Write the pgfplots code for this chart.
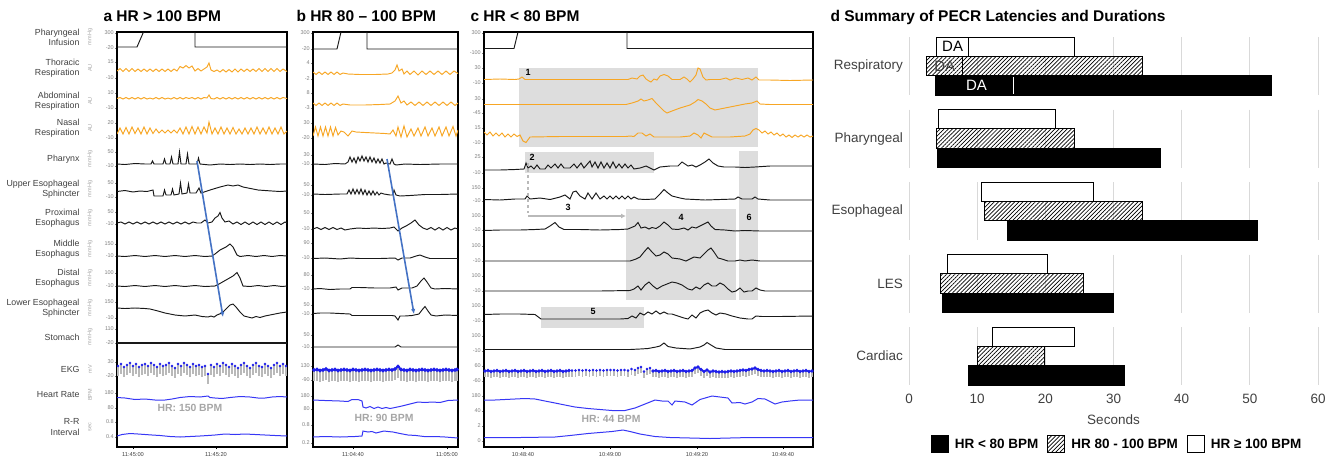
\documentclass[border=0pt]{standalone}
\usepackage{fontspec}
\setmainfont{Liberation Sans}
\usepackage{pgfplots}
\pgfplotsset{compat=1.18}
\usetikzlibrary{patterns.meta,arrows.meta}

\definecolor{orng}{RGB}{247,166,36}
\definecolor{trc}{RGB}{25,25,25}
\definecolor{ekgblue}{RGB}{30,30,235}
\definecolor{hrblue}{RGB}{55,55,245}
\definecolor{arrowblue}{RGB}{68,114,196}
\definecolor{shd}{RGB}{221,221,221}
\definecolor{gridc}{RGB}{217,217,217}
\definecolor{labc}{RGB}{64,64,64}

\newcommand\rowf{\fontsize{8.8}{10.2}\selectfont}
\newcommand\unitf{\fontsize{5.5}{6}\selectfont}
\newcommand\ttl{\bfseries\fontsize{15.5}{17}\selectfont}
\newcommand\hrf{\bfseries\fontsize{10.4}{12}\selectfont}

\tikzset{
  rsp/.style={orng, line width=0.95pt},
  blk/.style={trc, line width=0.95pt},
  hrt/.style={hrblue, line width=1pt},
  barB/.style={draw=black, fill=black, line width=0.9pt},
  barH/.style={draw=black, line width=0.9pt, pattern={Lines[angle=45,distance=2.9pt,line width=0.7pt]}},
  barW/.style={draw=black, fill=white, line width=0.9pt},
}
\pgfplotsset{
  trace/.style={scale only axis, y dir=reverse, clip=true, anchor=south west,
    axis line style={line width=1.1pt}, tick align=outside, major tick length=2pt,
    ytick style={gray, line width=0.4pt}, xtick style={black, line width=0.5pt},
    yticklabel style={font=\fontsize{5.5}{6}\selectfont, text=gray, inner sep=1pt},
    xticklabel style={font=\fontsize{5.7}{6}\selectfont, text=labc},
    xtick pos=bottom, ytick pos=left},
  ekg/.style={ekgblue, mark=*, mark size=0.9pt, error bars/y dir=plus, error bars/y fixed=#1,
    error bars/error mark=none, error bars/error bar style={gray!55, line width=1.2pt}},
}
\newcommand{\bx}[5]{\addplot[#1] coordinates {(#2,#4) (#3,#4) (#3,#5) (#2,#5)} -- cycle;}

\begin{document}
\begin{tikzpicture}
\path[use as bounding box] (0,0) rectangle (1333pt,-458pt);

% titles
\node[anchor=base west, font=\ttl] at (100pt,-21.5pt) {a HR > 100 BPM};
\node[anchor=base west, font=\ttl] at (293pt,-21.5pt) {b HR 80 – 100 BPM};
\node[anchor=base west, font=\ttl] at (467pt,-21.5pt) {c HR < 80 BPM};
\node[anchor=base west, font=\ttl] at (827pt,-21pt) {d Summary of PECR Latencies and Durations};

% row labels
\foreach \lab/\yy/\un in {Pharyngeal\\Infusion/37/mmHg, Thoracic\\Respiration/68/AU, Abdominal\\Respiration/101/AU,
  Nasal\\Respiration/128/AU, Pharynx/159/mmHg, Upper Esophageal\\Sphincter/189/mmHg, Proximal\\Esophagus/218/mmHg,
  Middle\\Esophagus/249/mmHg, Distal\\Esophagus/278/mmHg, Lower Esophageal\\Sphincter/308/mmHg, Stomach/337/mmHg,
  EKG/369/mV, Heart Rate/395/BPM, R-R\\Interval/427/sec}{
  \node[anchor=east, align=right, font=\rowf, text=labc] at (83pt,-\yy pt) {\lab};
  \node[rotate=90, font=\unitf, text=gray!70] at (90pt,-\yy pt) {\un};
}

% shaded regions of panel c
\fill[shd] (519pt,-68pt) rectangle (758pt,-147pt);
\fill[shd] (525pt,-152pt) rectangle (654pt,-173pt);
\fill[shd] (739pt,-151pt) rectangle (758pt,-300pt);
\fill[shd] (626pt,-209pt) rectangle (736pt,-300pt);
\fill[shd] (541pt,-307pt) rectangle (644pt,-328pt);

% ---------------- panel a ----------------
\begin{axis}[trace, at={(117pt,-447pt)}, width=170pt, height=415pt,
  xmin=117, xmax=287, ymin=32, ymax=447,
  xtick={133,216}, xticklabels={11:45:00,11:45:20},
  ytick={33,48,62,78,93,108,123,138,152,166,183,197,212,224,244,256,273,286,302,318,329,343,362,376,393,408,422,437},
  yticklabels={300,-20,15,-10,10,-10,20,-10,50,-10,50,-10,50,-10,150,-10,100,-10,150,-10,110,-20,30,-20,180,80,0.8,0.4}]
\addplot[blk] coordinates {(117,47)(137,47)(143.5,32)(195,32)(195,47)(287,47)};
\addplot[rsp] coordinates {(117,71)(120,68.5)(123,71.5)(126,68.5)(129,71.5)(132,68.5)(135,71.5)(138,69)(141,71.5)(144,69)(147,71.5)(150,69)(153,71.5)(156,69)(159,71.5)(162,69)(165,71.5)(168,69)(171,71.5)(174,69)(177,71)(180,66.5)(183,68)(186,65.5)(189,68)(192,66)(195,71)(198,68.5)(201,71)(204,69)(207,67)(209,63)(211,70)(214,71.5)(217,70)(220,72)(223,69.5)(226,72)(229,69.5)(232,72)(235,69)(238,72)(241,69)(244,71.5)(247,69)(250,71.5)(253,69)(256,71.5)(259,68.5)(262,71.5)(265,68.5)(268,71.5)(271,68.5)(274,71.5)(277,68.5)(280,71.5)(283,69)(287,71.5)};
\addplot[rsp] coordinates {(117,98.5)(120,97.5)(123,99)(126,97.5)(129,99)(132,97.5)(135,99)(138,97.5)(141,99)(144,97.5)(147,99)(150,98)(153,99)(156,97.5)(159,99)(162,97.5)(165,99)(168,98)(171,99)(174,97.5)(177,99)(180,97.5)(183,99)(186,97.5)(189,98.5)(192,97.5)(195,99)(198,97.5)(201,99)(204,97.5)(207,98)(209,95)(211,98.5)(214,99)(217,97.5)(220,99)(223,97.5)(226,99)(229,97.5)(232,99)(235,97.5)(238,99)(241,97.5)(244,99)(247,97.5)(250,99)(253,97.5)(256,99)(259,97.5)(262,99)(265,97.5)(268,99)(271,97.5)(274,99)(277,97.5)(280,99)(283,97.5)(287,98.5)};
\addplot[rsp] coordinates {(117,134)(120,128)(123,134)(126,127.5)(129,134)(132,127)(135,133.5)(138,128)(141,134)(144,127)(147,134)(150,128)(153,133.5)(156,129)(159,133)(162,130)(165,133)(168,130)(171,133)(174,130)(177,133)(180,128)(183,134)(186,127)(189,134)(192,126.5)(195,134)(198,127)(201,134)(204,127)(207,133)(209,122)(212,134)(215,128)(218,134)(221,127)(224,134)(227,128)(230,134)(233,127.5)(236,134)(239,129)(242,134)(245,128)(248,134)(251,128)(254,134)(257,127)(260,134)(263,128)(266,134)(269,127)(272,134)(275,128)(278,134)(281,127)(284,134)(287,131)};
\addplot[blk] coordinates {(117,164)(125,164.5)(135,163.5)(145,164)(151,164)(152.5,161)(154,164)(163,164)(164.5,159)(166,164)(170,164)(171.5,157)(173,164)(178,164)(179.5,152)(181,164)(186,164)(187.5,154)(189,164)(197,164)(198.5,158)(200,164)(210,165)(220,164)(230,164.5)(240,164)(250,164.5)(260,164)(270,164.5)(280,164)(287,164)};
\addplot[blk] coordinates {(117,191.5)(125,190.5)(133,192)(140,191)(147,191.5)(153,190)(154,196)(163,196)(164.5,190)(166,195)(171,195)(172.5,189)(174,195)(179,194)(180.5,183)(182,194)(187,193)(188.5,184)(190,193)(196,193)(199,188)(201,193)(210,190)(220,187)(228,185)(233,186)(238,185)(243,187)(248,188)(253,189)(258,190)(265,190.5)(272,191)(280,191.5)(287,191)};
\addplot[blk] coordinates {(117,223)(121,222)(125,224)(129,222)(133,224)(137,222)(141,224)(145,222)(149,224)(153,222)(157,224)(161,222)(165,224)(169,222)(173,224)(177,222)(181,224)(185,222)(189,224)(193,222)(197,223)(201,223)(205,220)(208,223)(212,222)(215,218)(218,216)(220,212.5)(222,218)(225,222)(229,221)(233,224)(237,222)(241,224.5)(245,222)(249,224.5)(253,222)(257,224.5)(261,222)(265,224.5)(269,222)(273,224.5)(277,222)(281,224.5)(285,222)(287,223)};
\addplot[blk] coordinates {(117,256)(125,256.5)(135,255.5)(145,256.5)(155,255.5)(165,256.5)(175,255.5)(185,256.5)(195,255.5)(205,256.5)(212,256)(215,254)(220,250)(226,247)(230,244)(233,247)(237,255)(240,256.5)(248,255.5)(256,256.5)(264,255.5)(272,256.5)(280,255.5)(287,256)};
\addplot[blk] coordinates {(117,286)(125,286.5)(135,285.5)(145,286.5)(155,285.5)(165,286.5)(175,285.5)(185,286.5)(195,285.5)(205,286.5)(215,286)(219,284)(226,280)(233,276)(237,272.5)(240,278)(243,286)(250,286.5)(258,285.5)(266,286.5)(274,285.5)(282,286.5)(287,286)};
\addplot[blk] coordinates {(117,308)(125,308.5)(135,308)(145,308.5)(150,309)(158,311)(165,313)(175,315)(185,316)(195,315)(202,316.5)(208,317)(211,316)(214,317)(217,315)(222,313)(226,309)(230,305)(233,304)(236,307)(240,312)(244,316)(248,317)(252,318)(256,316.5)(260,317.5)(265,316)(270,315)(275,314)(280,313)(287,312)};
\addplot[trc, line width=1.2pt] coordinates {(117,343)(200,343)(287,343)};
\addplot[ekg=10, only marks, mark size=1.2pt] coordinates {(118,366)(121,364)(124,367)(127,365)(130,363)(133,366)(136,364)(139,367)(142,365)(145,364)(148,366)(151,363)(154,365)(157,367)(160,364)(163,366)(166,365)(169,363)(172,366)(175,368)(178,364)(181,366)(184,363)(187,365)(190,367)(193,364)(196,366)(199,365)(202,367)(205,366)(208,374)(211,365)(214,367)(217,364)(220,366)(223,363)(226,365)(229,367)(232,364)(235,366)(238,368)(241,365)(244,363)(247,366)(250,368)(253,365)(256,363)(259,366)(262,367)(265,364)(268,366)(271,368)(274,365)(277,363)(280,366)(283,364)(286,366)};
\addplot[hrt] coordinates {(117,397.5)(125,398)(135,399.5)(145,399)(155,400)(165,400)(172,399)(180,397.5)(190,396.5)(200,397)(208,396)(210,397.5)(215,398)(222,398.5)(230,397.5)(240,396.5)(250,397)(258,398)(265,398)(272,397)(280,396.5)(287,397)};
\addplot[hrt] coordinates {(117,436)(122,434.5)(130,433.5)(138,434)(145,434.5)(152,435)(160,435.5)(170,436.5)(180,437)(190,436.5)(200,436)(208,435.5)(215,435)(225,434)(235,434.5)(245,434)(255,434.5)(265,435)(275,435.5)(287,436)};
\end{axis}

% ---------------- panel b ----------------
\begin{axis}[trace, at={(313pt,-447pt)}, width=145pt, height=415pt,
  xmin=313, xmax=458, ymin=32, ymax=447,
  xtick={353,447}, xticklabels={11:04:40,11:05:00},
  ytick={33,49,63,79,93,108,123,138,155,164,185,195,213,229,243,258,275,289,305,314,335,347,366,380,396,409,425,443},
  yticklabels={300,-20,4,-2,8,-3,30,-20,30,-10,50,-10,50,-10,90,-10,80,-10,50,-10,50,-10,130,-90,180,80,0.8,0.2}]
\addplot[blk] coordinates {(313,49)(337,49)(341,32)(367,32)(367,49)(458,49)};
\addplot[rsp] coordinates {(313,72)(316,74.5)(319,72)(322,74.5)(325,72)(328,74.5)(331,72)(334,74.5)(337,72)(340,74.5)(343,73)(348,74)(360,74.5)(375,74.5)(388,74)(392,73)(395,70)(397,65)(399,71)(402,69)(404,74)(407,71)(410,74.5)(414,71)(418,75)(422,71)(426,74.5)(430,71)(434,74.5)(438,71)(442,74.5)(446,71)(450,74.5)(454,71)(458,73.5)};
\addplot[rsp] coordinates {(313,103)(316,105.5)(319,103)(322,105.5)(325,103)(328,105.5)(331,103)(334,105.5)(337,103)(340,105.5)(343,104)(350,105)(365,105)(380,104.5)(390,104)(395,101)(398,96)(401,103)(404,101)(407,105)(411,102)(415,105.5)(419,102)(423,105.5)(427,102)(431,105.5)(435,102)(439,105.5)(443,102)(447,105.5)(451,102)(455,105.5)(458,103)};
\addplot[rsp] coordinates {(313,136)(315.5,127)(318,136)(320.5,127)(323,136)(325.5,127)(328,136)(330.5,127)(333,136)(335.5,127.5)(338,135)(341,131)(344,132)(348,136)(352,131)(356,132)(365,132.5)(375,133)(385,133.5)(390,134)(393,130)(396,136)(398,127)(401,137)(404,126)(407,137)(411,129)(414,136)(418,128)(421,136)(425,127)(428,136)(432,128)(435,136)(439,127)(442,136)(446,127)(449,136)(453,126.5)(456,136)(458,130)};
\addplot[blk] coordinates {(313,164)(325,164.5)(335,163.5)(345,164)(348,162)(350,157)(352,162)(354,158)(356,163)(358,157)(360,161)(362,156)(364,161)(366,157)(368,162)(370,157)(372,162)(374,158)(376,163)(378,159)(380,163)(382,159)(384,164)(386,163)(390,164)(392,159)(394,164)(396,165)(405,164)(420,164.5)(440,164)(458,164)};
\addplot[blk] coordinates {(313,194)(325,194.5)(340,194)(347,194)(349,190)(351,194)(353,189)(355,194)(357,189.5)(359,194)(361,189)(363,194.5)(365,190)(367,195)(369,191)(371,195)(373,191)(375,195)(377,192)(379,195)(381,193)(384,194)(390,195)(393,195)(394,190)(396,195)(400,196)(410,195.5)(425,194.5)(440,194.5)(458,194)};
\addplot[blk] coordinates {(313,229)(317,227.5)(321,229.5)(325,227.5)(329,229.5)(333,227.5)(337,229.5)(341,228)(345,230)(350,229)(358,228)(366,228.5)(374,228)(382,228.5)(390,228)(394,227)(398,231)(402,228)(406,226)(411,223)(415,220)(419,225)(423,228)(427,229.5)(431,227.5)(435,230)(439,227.5)(443,230)(447,227.5)(451,230)(455,228)(458,229)};
\addplot[blk] coordinates {(313,258.5)(325,258)(340,259)(350,258)(360,258.5)(380,258.5)(395,258)(398,260)(402,258)(410,258)(416,256)(420,255)(425,257)(430,258.5)(445,258.5)(458,258.5)};
\addplot[blk] coordinates {(313,289)(320,288.5)(330,289.5)(340,289)(350,289)(352,287.5)(360,287.5)(375,288)(390,288)(396,287)(398,290)(402,288)(412,288)(417,286)(421,281)(424,278)(427,282)(431,288)(435,289)(445,288.5)(458,289)};
\addplot[blk] coordinates {(313,313.5)(320,313)(330,313)(340,313.5)(350,314)(352,315.5)(365,315.5)(380,315.5)(392,315.5)(395,316)(398,320)(400,316)(405,316)(412,315.5)(419,314)(422,310)(425,306.5)(428,311)(431,315)(436,316)(445,315)(458,315.5)};
\addplot[blk] coordinates {(313,347)(360,347)(395,347)(398,345)(401,347)(458,347)};
\addplot[ekg=11, line width=1.8pt, mark size=0.8pt] coordinates {(314,370)(317,369.5)(320,370.5)(323,370)(326,369)(329,370.5)(332,370)(335,369.5)(338,370.5)(341,370)(344,369.5)(347,370)(350,370.5)(353,369.5)(356,370)(359,370.5)(362,370)(365,369.5)(368,370)(371,370.5)(374,370)(377,369.5)(380,370)(383,370.5)(386,370)(389,369.5)(392,370)(395,369)(398,366.5)(401,369.5)(404,370)(407,370.5)(410,369.5)(413,370)(416,370.5)(419,370)(422,369.5)(425,370)(428,370.5)(431,370)(434,369.5)(437,370)(440,370.5)(443,370)(446,369.5)(449,370)(452,370.5)(455,370)(457,369.5)};
\addplot[hrt] coordinates {(313,400)(325,400.5)(340,401)(348,401.5)(352,399.5)(358,399.5)(362,401)(363,407)(366,408)(370,406.5)(374,408.5)(378,407)(382,408.5)(386,407.5)(390,408.5)(395,407.5)(402,406)(410,404)(418,402)(425,402.5)(432,402)(440,402.5)(448,400.5)(458,400)};
\addplot[hrt] coordinates {(313,437)(325,436.5)(340,437)(355,436.5)(362,436)(363,431)(368,432)(372,431.5)(376,433)(380,432)(384,431)(388,431.5)(393,432)(400,433.5)(408,435)(416,435.5)(424,436.5)(435,436.5)(445,437)(458,438)};
\end{axis}

% ---------------- panel c ----------------
\begin{axis}[trace, at={(484pt,-447pt)}, width=329pt, height=415pt,
  xmin=484, xmax=813, ymin=32, ymax=447,
  xtick={523,610,697,783}, xticklabels={10:48:40,10:49:00,10:49:20,10:49:40},
  ytick={33,53,68,83,99,113,128,143,157,173,188,201,216,230,246,261,276,291,306,321,336,351,366,381,396,411,426,441},
  yticklabels={300,-100,30,-10,30,-45,15,-10,25,-10,150,-10,100,-10,100,-10,100,-10,100,-10,100,-10,60,-60,180,40,2,0}]
\addplot[blk] coordinates {(484,48.5)(514,48.5)(518,32)(627,32)(627,48.5)(813,48.5)};
\addplot[rsp] coordinates {(484,79.5)(500,79)(515,79.5)(519,79)(522,77)(525,79.5)(560,79.5)(600,79.5)(628,79.5)(632,78)(637,79)(640,76)(643,75)(646,79)(649,81)(651,82)(654,79)(657,80)(660,76)(664,74.5)(668,76)(672,79.5)(680,79.5)(684,77)(687,79)(690,82)(693,79)(696,75)(698,68)(700,69)(703,77)(706,80)(710,79.5)(720,79.5)(726,78)(730,80)(736,78)(742,79.5)(748,78)(752,80)(756,77)(759,80)(770,80)(790,80.5)(813,80)};
\addplot[rsp] coordinates {(484,104.5)(520,104.5)(560,104.5)(626,104.5)(632,103)(638,101)(641,99)(644,101)(648,100)(652,98.5)(656,103)(660,107)(664,111)(667,113)(672,111)(680,108)(690,105)(695,102)(698,99.5)(702,101)(706,104)(710,108)(715,110)(725,108)(735,106)(745,104)(752,103)(757,101)(760,104)(770,104.5)(813,104.5)};
\addplot[rsp] coordinates {(484,132)(487,135)(490,132)(493,136)(496,133)(499,136)(502,133)(505,137)(508,134)(511,137)(514,134)(517,136.5)(520,135)(523,141)(526,142.5)(530,137)(560,136.5)(600,136.5)(626,136.5)(630,136)(634,136.5)(638,133)(642,133)(646,136)(650,134)(654,137)(660,137)(680,137)(690,136)(694,133)(698,135)(701,138)(704,133)(708,135)(712,137)(730,137)(745,136)(750,134)(753,130)(756,128.5)(759,130)(762,133)(765,131)(768,134)(771,132)(774,135)(777,133)(780,136)(783,134)(786,137)(789,135)(792,137.5)(795,135)(798,137)(801,135)(804,137)(807,135)(810,137)(813,136)};
\addplot[blk] coordinates {(484,170)(500,170)(515,169.5)(524,169)(526,163)(528,168)(531,166)(534,169)(537,165)(540,169)(545,169)(548,165)(551,168)(555,164)(558,168)(561,164)(564,168)(570,168)(574,164)(577,168)(581,163)(584,168)(590,161)(592,167)(595,162)(598,168)(601,162)(604,168)(607,163)(610,168)(613,162)(616,168)(619,164)(622,168)(625,164)(628,168)(631,165)(634,169)(640,168)(646,166)(650,168)(654,170)(660,167)(670,166)(678,166)(682,162)(685,164)(688,166)(692,165)(696,167)(700,165)(705,162)(709,159)(713,163)(718,166)(724,167)(735,167)(745,167.5)(755,167)(770,166)(790,166)(813,166)};
\addplot[blk] coordinates {(484,199.5)(500,200)(515,199)(525,199)(527,196)(530,199)(540,198)(550,199.5)(560,197)(565,195)(570,199)(573,192)(576,191)(580,196)(585,199)(588,193)(592,199)(596,193)(600,199)(604,196)(607,199)(610,196)(613,199)(616,196)(619,199)(622,196)(625,199)(628,196)(631,199)(634,197)(638,199)(645,199.5)(655,199)(660,194)(664,189.5)(668,193)(672,196)(676,197)(680,198)(685,199)(695,199.5)(705,200)(720,199.5)(735,199)(738,197)(742,199)(752,199)(755,197)(758,199)(770,200)(813,200)};
\addplot[blk] coordinates {(484,230.5)(500,230)(520,230)(535,229.5)(545,229)(550,226)(555,222.5)(559,227)(564,229.5)(580,229.5)(600,230)(620,229.5)(628,229)(635,226)(638,222.5)(641,228)(645,227)(649,229)(652,227.5)(656,228.5)(660,226)(664,222)(668,225)(672,229)(678,229.5)(684,228)(688,230)(692,227)(696,228)(700,226)(704,224)(708,222)(711,226)(715,229.5)(725,230)(735,231)(745,230.5)(760,231)(780,231)(813,231)};
\addplot[blk] coordinates {(484,261)(520,261)(560,261)(600,261)(630,261)(636,259)(640,257)(644,252)(648,247.5)(652,252)(656,256)(660,255)(664,252)(668,254)(672,258)(680,259)(686,261)(690,259)(694,257)(700,258)(704,254)(708,250)(711,248)(714,252)(718,258)(722,259)(728,261)(735,261)(740,260)(745,261)(752,260)(760,261)(813,261)};
\addplot[blk] coordinates {(484,291)(520,291)(560,291)(600,291)(630,290.5)(634,289)(638,286)(641,290)(645,285)(649,282)(653,286)(657,289)(662,286)(667,284)(672,282)(677,283)(682,285)(688,289)(692,290)(696,287)(700,289)(704,285)(708,283)(712,286)(716,286)(720,283)(724,285)(728,289)(732,292)(736,291)(740,288)(744,292)(748,291)(752,291)(756,288)(760,290)(765,291)(813,291)};
\addplot[blk] coordinates {(484,314.5)(500,314)(520,314)(535,314.5)(541,319)(560,319)(600,319)(620,319)(628,318.5)(632,316)(636,318)(640,313)(644,315)(648,312)(652,314)(656,311)(660,314)(664,312)(668,314)(672,314)(678,316)(684,318)(688,319)(692,315)(696,318)(700,313)(704,311)(708,310)(712,313)(716,315)(720,313)(726,314)(732,316)(740,318)(748,319)(752,319)(756,316)(762,316.5)(780,316.5)(813,316)};
\addplot[blk] coordinates {(484,349.5)(560,349.5)(630,349.5)(640,349)(648,348.5)(656,347)(660,346)(664,343)(668,346.5)(676,348)(690,349)(700,347)(704,345)(707,342.5)(711,345)(716,348)(725,349.5)(813,349.5)};
\addplot[ekg=6, line width=1.4pt, mark size=0.8pt] coordinates {(485,371)(488,370.5)(491,371.5)(494,371)(497,370.5)(500,371.5)(503,371)(506,370.5)(509,371.5)(512,371)(515,370.5)(518,371.5)(521,371)(524,370.5)(527,371.5)(530,371)(533,370.5)(536,371.5)(539,371)(542,370.5)(545,371.5)(548,371)(551,370.5)(554,371.5)(557,371)(560,370.5)(563,371.5)(566,371)(569,370.5)};
\addplot[ekg=6, only marks, mark size=1pt] coordinates {(572,370.5)(575.5,370.5)(579,370)(582.5,370.5)(586,370)(589.5,370.5)(593,370)(596.5,370.5)(600,370)(603.5,370.5)(607,370)(610.5,370)(614,370)(617.5,370.5)(621,370)(624.5,370)(628,370.5)(631.5,369)(635,370)(638,368)(641,367)(644,371.5)(647,369)(650,368)};
\addplot[ekg=6, line width=1.4pt, mark size=0.8pt] coordinates {(653,371)(656,370.5)(659,371.5)(662,371)(665,370.5)(668,371.5)(671,371)(674,370.5)(677,371.5)(680,371)(683,370.5)(686,371.5)(689,371)(692,370.5)(695,368)(698,367)(701,369.5)(704,371.5)(707,370)(710,372)(713,371)(716,371.5)(719,372)(722,371.5)(725,372)(728,371.5)(731,371)(734,371.5)(737,371)(740,370.5)(743,370)(746,370.5)(749,369.5)(752,369)(755,368)(758,369.5)(761,370.5)(764,371)(767,370.5)(770,371)(773,371.5)(776,371)(779,370.5)(782,371.5)(785,371)(788,370.5)(791,371.5)(794,371)(797,370.5)(800,371.5)(803,371)(806,370.5)(809,371.5)(812,371)};
\addplot[hrt] coordinates {(484,400)(495,400)(505,399.5)(515,399)(525,398.5)(535,399)(545,401)(555,403)(565,405)(575,407)(588,408.5)(600,409.5)(612,410.5)(625,410.5)(635,408)(645,404)(655,400)(662,401)(668,401)(672,405)(675,401)(685,402)(692,405)(700,399.5)(712,396)(720,397)(728,398)(732,403)(740,402.5)(745,404)(752,402)(758,398.5)(765,399)(775,404)(782,402)(790,401)(800,400)(813,400)};
\addplot[hrt] coordinates {(484,437.5)(520,437.5)(555,437)(570,435.5)(588,433.5)(600,432.5)(612,431.5)(623,430)(630,431.5)(640,434)(655,436.5)(670,437.5)(690,438)(710,438.5)(730,438)(750,437.5)(770,437.5)(790,437.5)(813,437.5)};
\end{axis}

% annotations
\draw[arrowblue, line width=1.6pt, -{Latex[length=5pt,width=4.5pt]}] (197pt,-161pt) -- (223pt,-317pt);
\draw[arrowblue, line width=1.6pt, -{Latex[length=5pt,width=4.5pt]}] (387pt,-159pt) -- (414pt,-314pt);
\draw[gray!55, line width=1.3pt, dashed] (528pt,-163pt) -- (528pt,-213pt);
\draw[gray!55, line width=1.6pt, -{Latex[length=5pt,width=5pt]}] (528pt,-216pt) -- (626pt,-216pt);
\foreach \t/\xx/\yy in {1/528/72, 2/532/157, 3/568/207, 4/681/217, 5/593/311, 6/749/217}
  \node[font=\bfseries\fontsize{9}{10}\selectfont] at (\xx pt,-\yy pt) {\t};
\node[font=\hrf, text=gray!70] at (190pt,-408pt) {HR: 150 BPM};
\node[font=\hrf, text=gray!70] at (384pt,-418pt) {HR: 90 BPM};
\node[font=\hrf, text=gray!70] at (611pt,-419pt) {HR: 44 BPM};

% ---------------- panel d ----------------
\begin{axis}[at={(909pt,-392.25pt)}, anchor=south west, scale only axis, width=409pt, height=362.5pt,
  xmin=0, xmax=60, ymin=-0.5, ymax=4.5, y dir=reverse, clip=false,
  axis line style={draw=none}, major tick length=0pt,
  xtick={0,10,20,30,40,50,60}, xticklabels={0,10,20,30,40,50,60},
  ytick={0,1,2,3,4}, yticklabels={Respiratory,Pharyngeal,Esophageal,LES,Cardiac},
  tick label style={font=\fontsize{13.5}{15}\selectfont, text=labc},
  xticklabel style={yshift=2pt}, yticklabel style={xshift=-2.5pt},
  xlabel={Seconds}, xlabel style={font=\fontsize{13.5}{15}\selectfont, text=labc, anchor=center, at={(axis description cs:0.5,-0.077)}},
  legend columns=3,
  legend style={at={(axis description cs:0.509,-0.143)}, anchor=center, draw=none, fill=none,
    font=\bfseries\fontsize{13.5}{15}\selectfont,
    /tikz/every odd column/.append style={column sep=4pt},
    /tikz/every even column/.append style={column sep=7pt}},
  legend image code/.code={\draw[#1] (0pt,-8.5pt) rectangle (17pt,8.5pt);}]
\foreach \c in {0,...,4}{\foreach \g in {0,10,...,60}{%
  \pgfmathsetmacro\lo{\c-0.4}\pgfmathsetmacro\hi{\c+0.4}%
  \edef\tmp{\noexpand\draw[gridc, line width=1pt] (axis cs:\g,\lo) -- (axis cs:\g,\hi);}\tmp}}
\addlegendimage{barB}\addlegendentry{HR < 80 BPM}
\addlegendimage{barH}\addlegendentry{HR 80 - 100 BPM}
\addlegendimage{barW}\addlegendentry{HR ≥ 100 BPM}
% Respiratory
\bx{barW, forget plot}{4.0}{24.3}{-0.4}{-0.133}
\bx{barH, forget plot}{2.6}{34.3}{-0.133}{0.133}
\bx{barB, forget plot}{3.9}{53.1}{0.133}{0.4}
\addplot[black, line width=0.9pt, forget plot] coordinates {(8.75,-0.4)(8.75,-0.133)};
\addplot[black, line width=0.9pt, forget plot] coordinates {(7.9,-0.133)(7.9,0.133)};
\addplot[white, line width=0.9pt, forget plot] coordinates {(15.3,0.15)(15.3,0.385)};
% Pharyngeal
\bx{barW, forget plot}{4.3}{21.5}{0.6}{0.867}
\bx{barH, forget plot}{4.0}{24.3}{0.867}{1.133}
\bx{barB, forget plot}{4.1}{36.9}{1.133}{1.4}
% Esophageal
\bx{barW, forget plot}{10.7}{27.1}{1.6}{1.867}
\bx{barH, forget plot}{11.1}{34.2}{1.867}{2.133}
\bx{barB, forget plot}{14.5}{51.1}{2.133}{2.4}
% LES
\bx{barW, forget plot}{5.7}{20.3}{2.6}{2.867}
\bx{barH, forget plot}{4.6}{25.6}{2.867}{3.133}
\bx{barB, forget plot}{4.9}{30.0}{3.133}{3.4}
% Cardiac
\bx{barW, forget plot}{12.2}{24.3}{3.6}{3.867}
\bx{barH, forget plot}{10.0}{19.9}{3.867}{4.133}
\bx{barB, forget plot}{8.7}{31.6}{4.133}{4.4}
\node[font=\fontsize{15}{16}\selectfont] at (axis cs:6.4,-0.266) {DA};
\node[font=\fontsize{15}{16}\selectfont, text=black!75] at (axis cs:5.25,0) {DA};
\node[font=\fontsize{15}{16}\selectfont, text=white] at (axis cs:9.9,0.266) {DA};
\end{axis}
\end{tikzpicture}
\end{document}
